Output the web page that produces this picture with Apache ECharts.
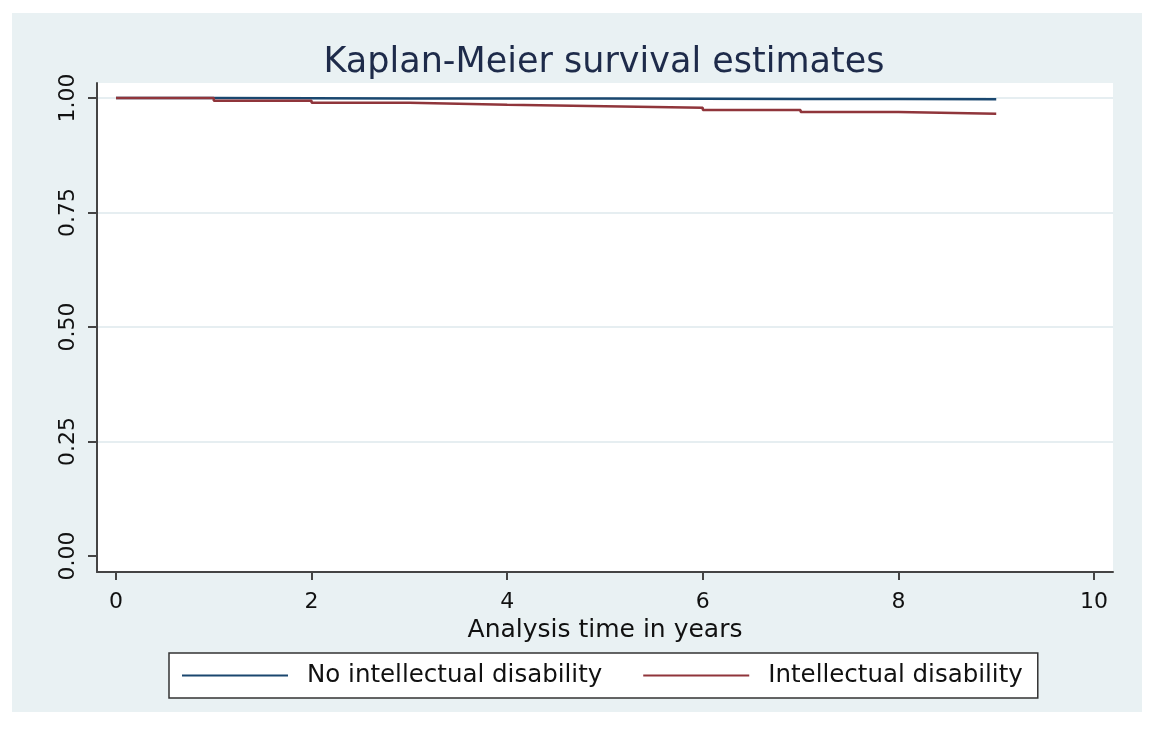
<!DOCTYPE html>
<html>
<head>
<meta charset="utf-8">
<script src="https://cdn.jsdelivr.net/npm/echarts@6/dist/echarts.min.js"></script>
<style>
html,body{margin:0;padding:0;background:#ffffff;}
#chart{width:1157px;height:739px;}
</style>
</head>
<body>
<div id="chart"></div>
<script>
// Data
const titleText = 'Kaplan-Meier survival estimates';
const xAxisName = 'Analysis time in years';
const seriesNames = ['No intellectual disability', 'Intellectual disability'];
const times = [0, 1, 2, 3, 4, 5, 6, 7, 8, 9];
const noIdSurvival = [1.0, 0.9996, 0.9993, 0.9991, 0.9989, 0.9987, 0.9981, 0.9979, 0.9977, 0.9977];
const idSurvival = [1.0, 0.9941, 0.9897, 0.9854, 0.9821, 0.9788, 0.9740, 0.9696, 0.9659, 0.9659];
const xTicks = [0, 2, 4, 6, 8, 10];
const yTicks = [0, 0.25, 0.5, 0.75, 1.0];

const FONT = 'DejaVu Sans';
// Kaplan-Meier step expansion: hold previous value until the next time, then drop
const stepPairs = (xs, ys) => {
  const out = [[xs[0], ys[0]]];
  for (let i = 1; i < xs.length; i++) {
    out.push([xs[i], ys[i - 1]]);
    out.push([xs[i], ys[i]]);
  }
  return out;
};

const chart = echarts.init(document.getElementById('chart'));
chart.setOption({
  backgroundColor: '#ffffff',
  animation: false,
  graphic: [{
    type: 'rect', z: -10, silent: true,
    shape: { x: 12, y: 13, width: 1130, height: 699 },
    style: { fill: '#e9f1f3' }
  }],
  title: {
    text: titleText,
    left: 599, textAlign: 'center', top: 40,
    textStyle: { fontFamily: FONT, fontSize: 35, fontWeight: 'normal', color: '#1e2b4a' }
  },
  grid: {
    left: 97, right: 44, top: 83, bottom: 167,
    show: true, backgroundColor: '#ffffff', borderWidth: 0
  },
  xAxis: {
    type: 'value', min: -0.194, max: 10.194,
    name: xAxisName, nameLocation: 'middle', nameGap: 35,
    nameTextStyle: { fontFamily: FONT, fontSize: 25, color: '#111' },
    axisLine: { show: true, onZero: false, lineStyle: { color: '#444', width: 2 } },
    axisTick: { show: true, customValues: xTicks, length: 8, lineStyle: { color: '#444', width: 2 } },
    axisLabel: { customValues: xTicks, margin: 19, fontFamily: FONT, fontSize: 22, color: '#111',
                 formatter: v => String(v) },
    splitLine: { show: false }
  },
  yAxis: {
    type: 'value', min: -0.035, max: 1.033,
    axisLine: { show: true, onZero: false, lineStyle: { color: '#444', width: 2 } },
    axisTick: { show: true, customValues: yTicks, length: 9, lineStyle: { color: '#444', width: 2 } },
    axisLabel: { customValues: yTicks, rotate: 90, margin: 18, fontFamily: FONT, fontSize: 22, color: '#111',
                 formatter: v => v.toFixed(2) },
    splitLine: { show: true, lineStyle: { color: ['rgba(0,0,0,0)', '#e6eef1', '#e6eef1', '#e6eef1', '#e6eef1'], width: 2 } }
  },
  legend: {
    left: 169, top: 653,
    orient: 'horizontal',
    backgroundColor: '#ffffff',
    borderColor: '#333', borderWidth: 1.5, borderRadius: 0,
    padding: [10, 15, 10, 13],
    icon: 'rect',
    itemWidth: 106, itemHeight: 2, itemGap: 41,
    textStyle: { fontFamily: FONT, fontSize: 24.5, color: '#111', padding: [0, 0, 0, 14] },
    data: seriesNames
  },
  series: [
    {
      name: seriesNames[0], type: 'line', symbol: 'none',
      data: stepPairs(times, noIdSurvival),
      lineStyle: { color: '#1a476f', width: 2.5 }, itemStyle: { color: '#1a476f' }
    },
    {
      name: seriesNames[1], type: 'line', symbol: 'none',
      data: stepPairs(times, idSurvival),
      lineStyle: { color: '#90353b', width: 2.5 }, itemStyle: { color: '#90353b' }
    }
  ]
});
</script>
</body>
</html>
